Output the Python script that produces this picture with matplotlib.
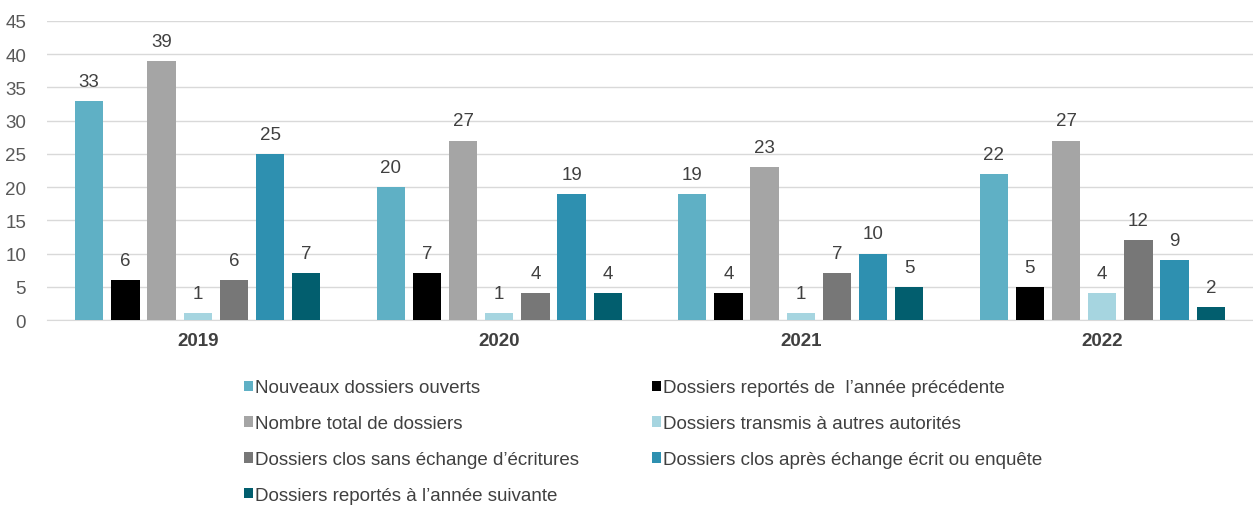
import numpy as np
import matplotlib.pyplot as plt
from matplotlib.patches import Patch

plt.rcParams['font.family'] = ['Liberation Sans', 'DejaVu Sans']

years = ['2019', '2020', '2021', '2022']
series_names = [
    'Nouveaux dossiers ouverts',
    'Dossiers reportés de  l\u2019année précédente',
    'Nombre total de dossiers',
    'Dossiers transmis à autres autorités',
    'Dossiers clos sans échange d\u2019écritures',
    'Dossiers clos après échange écrit ou enquête',
    'Dossiers reportés à l\u2019année suivante',
]
nouveaux = [33, 20, 19, 22]
reportes_prec = [6, 7, 4, 5]
total = [39, 27, 23, 27]
transmis = [1, 1, 1, 4]
clos_sans = [6, 4, 7, 12]
clos_apres = [25, 19, 10, 9]
reportes_suiv = [7, 4, 5, 2]
values = [nouveaux, reportes_prec, total, transmis, clos_sans, clos_apres, reportes_suiv]
colors = ['#5FB0C5', '#000000', '#A5A5A5', '#A6D5E0', '#777777', '#2E90B0', '#025E6E']

fig = plt.figure(figsize=(12.53, 5.06), dpi=100)
ax = fig.add_axes([47 / 1253, 1 - 321 / 506, 1 - 47 / 1253, (321 - 22) / 506])

fs = 13.5
x = np.arange(len(years))
step = 0.12
width = 0.094
for i, (vals, c) in enumerate(zip(values, colors)):
    pos = x + (i - 3) * step
    ax.bar(pos, vals, width, color=c, zorder=3)
    for xp, v in zip(pos, vals):
        ax.annotate(str(v), (xp, v), xytext=(0, 8), textcoords='offset points',
                    ha='center', va='bottom', fontsize=fs, color='#404040')

ax.set_xlim(-0.5, 3.5)
ax.set_ylim(0, 45)
ax.set_yticks(range(0, 46, 5))
ax.yaxis.grid(True, color='#D9D9D9', linewidth=1, zorder=0)
for s in ['top', 'right', 'left']:
    ax.spines[s].set_visible(False)
ax.spines['bottom'].set_color('#D9D9D9')
ax.tick_params(axis='y', length=0, labelsize=fs, labelcolor='#595959', pad=15)
ax.tick_params(axis='x', length=0, pad=9)
ax.set_xticks(x)
ax.set_xticklabels(years, fontsize=fs, fontweight='bold', color='#404040')

handles = [Patch(facecolor=c) for c in colors]
order = [0, 2, 4, 6, 1, 3, 5]
fig.legend([handles[i] for i in order], [series_names[i] for i in order],
           ncol=2, loc='upper left', bbox_to_anchor=(236 / 1253, 1 - 373 / 506),
           frameon=False, fontsize=fs, handlelength=0.5, handleheight=0.5,
           handletextpad=0.1, labelspacing=1.0, columnspacing=3.9,
           labelcolor='#404040', borderaxespad=0)

fig.savefig('out.png', dpi=100)
